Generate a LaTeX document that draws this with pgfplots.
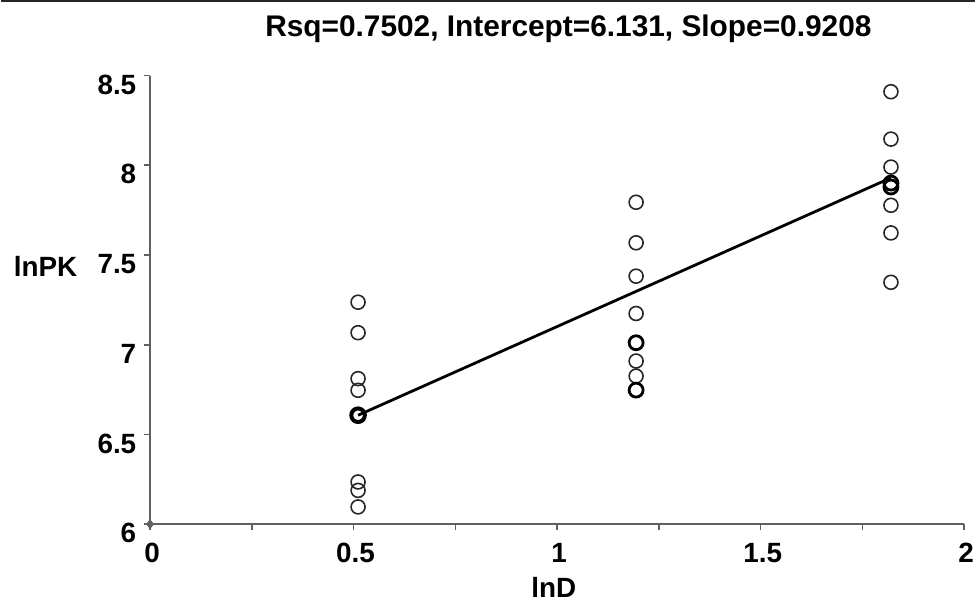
\documentclass[border=0pt]{standalone}
\usepackage{fontspec}
\setmainfont{Liberation Sans}
\usepackage{pgfplots}
\pgfplotsset{compat=1.18}
\usetikzlibrary{calc}
\definecolor{axisgray}{HTML}{606060}

% single observations
\pgfplotstableread{
x y
0.511 7.237
0.511 7.067
0.511 6.811
0.511 6.746
0.511 6.235
0.511 6.188
0.511 6.096
1.194 7.794
1.194 7.568
1.194 7.382
1.194 7.174
1.194 6.909
1.194 6.825
1.820 8.410
1.820 8.146
1.820 7.990
1.820 7.777
1.820 7.623
1.820 7.348
}\pts

% overlapping (repeated) observations
\pgfplotstableread{
x y
1.194 7.011
1.194 6.747
1.820 7.901
1.820 7.879
}\dup

\newcommand{\lblfont}{\fontsize{14}{16}\selectfont\bfseries}

\begin{document}
\begin{tikzpicture}
\begin{axis}[
  scale only axis,
  width=407.75bp, height=224.65bp,
  xmin=0, xmax=2, ymin=6, ymax=8.5,
  axis lines=left,
  axis line style={axisgray, line width=1bp, -},
  xtick={0,0.5,1,1.5,2},
  ytick={6,6.5,7,7.5,8,8.5},
  minor x tick num=1,
  tick align=outside,
  major tick length=2.8bp, minor tick length=2.8bp,
  tick style={axisgray, line width=0.8bp},
  /pgf/number format/assume math mode=true,
  ticklabel style={font=\lblfont, text=black},
  xticklabel style={yshift=-3.4bp, xshift=1bp},
  yticklabel style={anchor=north east, inner ysep=0pt, xshift=-0.6bp, yshift=0.6bp},
  clip=false,
]
\addplot[only marks, mark=o, mark size=3.5bp, mark options={line width=0.8bp, black!85}] table {\pts};
\addplot[only marks, mark=o, mark size=3.5bp, mark options={line width=1.4bp, black}] table {\dup};
\addplot[black, line width=1.4bp] coordinates {(0.511, 6.607) (1.820, 7.930)};
\addplot[only marks, mark=o, mark size=3.4bp, mark options={line width=2bp, black}] coordinates {(0.511, 6.607)};
\addplot[only marks, mark=diamond*, mark size=2.2bp, axisgray] coordinates {(0,6)};
\node[font=\fontsize{15}{17}\selectfont\bfseries, anchor=base west, inner sep=0pt, xshift=57.5bp, yshift=19.35bp] at (rel axis cs:0,1) {Rsq=0.7502, Intercept=6.131, Slope=0.9208};
\node[font=\lblfont, anchor=west, inner sep=0pt, xshift=-68.4bp] at (rel axis cs:0,0.5736) {lnPK};
\node[font=\lblfont, anchor=base, yshift=-36.6bp] at (rel axis cs:0.496,0) {lnD};
\end{axis}
\pgfresetboundingbox
\path ($(current axis.south west)+(-74.75bp,-38.5bp)$) rectangle ($(current axis.north east)+(5.5bp,37.85bp)$);
\draw[black!85, line width=0.8bp] ($(current axis.north west)+(-74.75bp,37.45bp)$) -- ($(current axis.north east)+(5.5bp,37.45bp)$);
\end{tikzpicture}
\end{document}
